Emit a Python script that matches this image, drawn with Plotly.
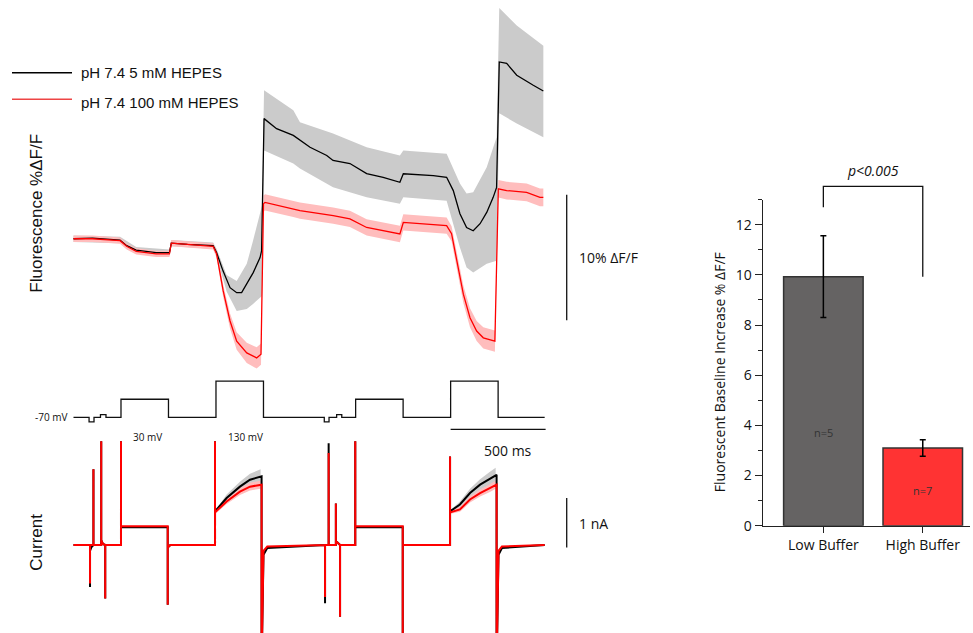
import plotly.graph_objects as go

# ---------------- Fluorescence traces (%ΔF/F vs time, ms) ----------------
black_t = [0, 100, 245, 280, 330, 435, 505, 515, 600, 735, 753, 787, 824, 859, 885, 912, 946, 982, 990,
           1003, 1069, 1157, 1245, 1333, 1366, 1455, 1543, 1630, 1718, 1736, 1894, 1964, 1999, 2034, 2069,
           2104, 2140, 2175, 2209, 2227, 2241, 2280, 2333, 2420, 2473]
black_f = [0.0, 0.05, -0.1, -0.55, -0.9, -1.1, -1.1, -0.35, -0.45, -0.55, -1.1, -2.56, -3.9, -4.3, -4.3,
           -3.62, -2.7, -1.5, -0.96, 9.58, 8.78, 8.24, 7.3, 6.64, 6.24, 6.0, 5.2, 4.9, 4.5, 5.18, 5.04, 4.9,
           3.84, 2.0, 0.9, 0.64, 1.2, 2.1, 3.3, 4.1, 14.1, 13.98, 13.04, 12.24, 11.78]

black_band_t = [0, 245, 330, 505, 515, 735, 753, 806, 859, 912, 945, 982, 992, 1003, 1157, 1192, 1366,
                1543, 1718, 1736, 1964, 2034, 2069, 2104, 2175, 2227, 2241, 2333, 2473]
black_band_hi = [0.25, 0.15, -0.65, -0.85, -0.1, -0.3, -0.8, -2.9, -3.36, -2.0, -0.16, 2.0, 2.64, 11.84,
                 10.24, 9.3, 8.4, 7.3, 6.64, 7.04, 6.78, 4.4, 3.6, 3.7, 5.7, 8.1, 18.4, 17.0, 15.4]
black_band_lo = [-0.25, -0.35, -1.15, -1.35, -0.6, -0.8, -1.4, -4.2, -5.76, -5.6, -5.2, -4.7, -4.56, 7.04,
                 6.0, 5.6, 4.1, 3.3, 2.8, 3.3, 3.04, -0.7, -2.3, -2.7, -2.0, -1.76, 10.0, 9.2, 8.1]

red_t = [0, 100, 245, 280, 330, 435, 505, 515, 600, 735, 753, 788, 824, 859, 912, 964, 987, 1000, 1008,
         1157, 1192, 1367, 1455, 1543, 1630, 1718, 1736, 1964, 1990, 2017, 2052, 2087, 2122, 2157, 2218,
         2236, 2280, 2385, 2455, 2473]
red_f = [0.0, 0.0, -0.15, -0.6, -1.0, -1.2, -1.2, -0.35, -0.45, -0.6, -1.2, -4.16, -6.56, -8.16, -9.1,
         -9.5, -9.2, 2.78, 2.9, 2.38, 2.24, 1.84, 1.58, 0.9, 0.64, 0.38, 1.3, 1.04, 0.4, -1.76, -4.42, -6.3,
         -7.36, -7.9, -8.16, 3.98, 3.84, 3.7, 3.3, 3.3]
red_sd = [0.25, 0.25, 0.25, 0.25, 0.25, 0.25, 0.25, 0.25, 0.25, 0.25, 0.3, 0.5, 0.6, 0.7, 0.8, 0.85, 0.85,
          0.65, 0.65, 0.65, 0.65, 0.65, 0.65, 0.65, 0.65, 0.65, 0.65, 0.65, 0.6, 0.6, 0.7, 0.75, 0.8, 0.85,
          0.85, 0.7, 0.7, 0.7, 0.7, 0.7]

# ---------------- Voltage protocol (mV) ----------------
volt_t = [0, 82, 108, 142, 171, 250, 500, 750, 1000, 1320, 1345, 1385, 1412, 1485, 1735, 1985, 2235, 2480]
volt_mv = [-70, -95, -70, -55, -70, 30, -70, 130, -70, -95, -70, -55, -70, 30, -70, 130, -70, -70]

# ---------------- Current traces (nA) ----------------
cur_t = [0, 87, 87, 87, 95, 105, 105, 105, 146, 146, 146, 155, 167, 167, 167, 250, 250, 250, 496, 496, 496,
         510, 745, 745, 745, 806, 876, 929, 985, 990, 990, 1000, 1020, 1324, 1324, 1324, 1343, 1343, 1343,
         1381, 1381, 1381, 1403, 1403, 1403, 1483, 1483, 1483, 1733, 1733, 1733, 1750, 1982, 1982, 1982,
         2034, 2087, 2140, 2192, 2222, 2227, 2227, 2237, 2255, 2480]
cur_black = [0, 0, -0.85, -0.12, -0.04, 0, 1.53, 0, 0, 2.1, 0.1, 0.02, 0, -1.08, 0, 0, 2.1, 0.36, 0.36,
             -1.21, -0.05, 0, 0, 2.1, 0.68, 0.95, 1.18, 1.32, 1.39, 1.39, -2.5, -0.2, -0.06, 0, -1.18, 0, 0,
             2.06, 0, 0, 0.84, 0.08, 0, -1.45, 0, 0, 2.1, 0.36, 0.36, -2.5, 0, 0, 0, 1.79, 0.68, 0.82, 1.05,
             1.22, 1.35, 1.42, 1.42, -2.5, -0.2, -0.06, 0]
cur_red = [0, 0, -0.78, -0.02, 0, 0, 1.53, 0, 0, 2.1, 0.1, 0.02, 0, -1.08, 0, 0, 2.1, 0.38, 0.38, -1.21,
           -0.05, 0, 0, 2.1, 0.66, 0.88, 1.08, 1.18, 1.22, 1.22, -2.5, -0.12, -0.03, 0, -1.05, 0, 0, 1.86, 0,
           0, 0.84, 0.08, 0, -1.45, 0, 0, 2.1, 0.38, 0.38, -2.5, 0, 0, 0, 1.79, 0.66, 0.72, 0.92, 1.05, 1.15,
           1.22, 1.22, -2.5, -0.12, -0.03, 0]

ramp1_t = [748, 806, 876, 929, 985]
ramp1_black = [0.68, 0.95, 1.18, 1.32, 1.39]
ramp1_red = [0.66, 0.88, 1.08, 1.18, 1.22]
ramp2_t = [1985, 2034, 2087, 2140, 2192, 2222]
ramp2_black = [0.68, 0.82, 1.05, 1.22, 1.35, 1.42]
ramp2_red = [0.66, 0.72, 0.92, 1.05, 1.15, 1.22]
ramp_sd_black1 = [0.03, 0.07, 0.1, 0.12, 0.14]
ramp_sd_black2 = [0.03, 0.06, 0.09, 0.11, 0.13, 0.14]
ramp_sd_red1 = [0.03, 0.05, 0.07, 0.08, 0.08]
ramp_sd_red2 = [0.03, 0.05, 0.06, 0.07, 0.08, 0.08]

# ---------------- Bar chart ----------------
bar_cats = ["Low Buffer", "High Buffer"]
bar_vals = [9.93, 3.10]
bar_err = [1.63, 0.33]
bar_n = ["n=5", "n=7"]
bar_n_y = [3.7, 1.4]
bar_colors = ["#656363", "#ff3333"]
p_text = "p<0.005"

# Scale bar sizes
scale_ms = 500
scale_pct = 10
scale_na = 1

BLACK = "#000000"
RED = "#ff0000"
GREY_BAND = "#cbcbcb"
PINK_BAND = "#ffbdbd"

fig = go.Figure()


def band(t, hi, lo, color, xa, ya):
    fig.add_trace(go.Scatter(x=list(t) + list(t)[::-1], y=list(hi) + list(lo)[::-1], fill="toself",
                             fillcolor=color, line=dict(width=0), mode="lines", hoverinfo="skip",
                             showlegend=False, xaxis=xa, yaxis=ya))


# Fluorescence
band(black_band_t, black_band_hi, black_band_lo, GREY_BAND, "x", "y")
band(red_t, [f + s for f, s in zip(red_f, red_sd)], [f - s for f, s in zip(red_f, red_sd)], PINK_BAND, "x", "y")
fig.add_trace(go.Scatter(x=black_t, y=black_f, mode="lines", line=dict(color=BLACK, width=1.3),
                         name="pH 7.4 5 mM HEPES", showlegend=False, xaxis="x", yaxis="y"))
fig.add_trace(go.Scatter(x=red_t, y=red_f, mode="lines", line=dict(color=RED, width=1.3),
                         name="pH 7.4 100 mM HEPES", showlegend=False, xaxis="x", yaxis="y"))

# Voltage protocol
fig.add_trace(go.Scatter(x=volt_t, y=volt_mv, mode="lines", line=dict(color="#111111", width=1.3, shape="hv"),
                         showlegend=False, xaxis="x2", yaxis="y2"))

# Current
band(ramp1_t, [a + s for a, s in zip(ramp1_black, ramp_sd_black1)],
     [a - s for a, s in zip(ramp1_black, ramp_sd_black1)], GREY_BAND, "x3", "y3")
band(ramp2_t, [a + s for a, s in zip(ramp2_black, ramp_sd_black2)],
     [a - s for a, s in zip(ramp2_black, ramp_sd_black2)], GREY_BAND, "x3", "y3")
band(ramp1_t, [a + s for a, s in zip(ramp1_red, ramp_sd_red1)],
     [a - s for a, s in zip(ramp1_red, ramp_sd_red1)], PINK_BAND, "x3", "y3")
band(ramp2_t, [a + s for a, s in zip(ramp2_red, ramp_sd_red2)],
     [a - s for a, s in zip(ramp2_red, ramp_sd_red2)], PINK_BAND, "x3", "y3")
fig.add_trace(go.Scatter(x=cur_t, y=cur_black, mode="lines", line=dict(color=BLACK, width=2),
                         showlegend=False, xaxis="x3", yaxis="y3"))
fig.add_trace(go.Scatter(x=cur_t, y=cur_red, mode="lines", line=dict(color=RED, width=2),
                         showlegend=False, xaxis="x3", yaxis="y3"))

# Bars
fig.add_trace(go.Bar(x=bar_cats, y=bar_vals, width=0.8,
                     marker=dict(color=bar_colors, line=dict(color="#333333", width=1.5)),
                     error_y=dict(type="data", array=bar_err, color="#000000", thickness=1.5, width=3),
                     showlegend=False, xaxis="x4", yaxis="y4"))

T_RANGE = [-386.8, 2788.4]
hidden = dict(visible=False, showgrid=False, zeroline=False, fixedrange=True)
fig.update_layout(
    width=973, height=644,
    margin=dict(l=0, r=0, t=0, b=0),
    paper_bgcolor="white", plot_bgcolor="white",
    showlegend=False,
    xaxis=dict(domain=[0, 0.62], range=T_RANGE, anchor="y", **hidden),
    yaxis=dict(domain=[0.406, 1.0], range=[-11.04, 19.04], anchor="x", **hidden),
    xaxis2=dict(domain=[0, 0.62], range=T_RANGE, anchor="y2", **hidden),
    yaxis2=dict(domain=[0.3286, 0.4155], range=[-120, 185.6], anchor="x2", **hidden),
    xaxis3=dict(domain=[0, 0.62], range=T_RANGE, anchor="y3", **hidden),
    yaxis3=dict(domain=[0.0, 0.3207], range=[-1.82, 2.298], anchor="x3", **hidden),
    xaxis4=dict(domain=[0.7839, 0.997], range=[-0.61, 1.476], anchor="y4", type="category",
                showline=True, linecolor="#222222", linewidth=1.2, ticks="outside", ticklen=6,
                tickcolor="#222222", tickwidth=1.2, showgrid=False, zeroline=False,
                tickfont=dict(family="Open Sans", size=14, color="#111111")),
    yaxis4=dict(domain=[0.1722, 0.6856], range=[0, 13], anchor="x4", showline=True, linecolor="#222222",
                linewidth=1.2, ticks="outside", ticklen=7, tickcolor="#222222", tickwidth=1.2,
                dtick=2, tick0=0, showgrid=False, zeroline=False,
                minor=dict(dtick=1, ticks="outside", ticklen=4, tickcolor="#222222", tickwidth=1.2, showgrid=False),
                tickfont=dict(family="Open Sans", size=14, color="#111111")),
    font=dict(family="Open Sans", color="#111111"),
)

shapes = []
# Fluorescence scale bar
shapes.append(dict(type="line", xref="x", yref="y", x0=2596, x1=2596, y0=-6.5, y1=-6.5 + scale_pct,
                   line=dict(color="#111111", width=1.3)))
# Current scale bar
shapes.append(dict(type="line", xref="x3", yref="y3", x0=2596, x1=2596, y0=-0.05, y1=-0.05 + scale_na,
                   line=dict(color="#111111", width=1.3)))
# Time scale bar
shapes.append(dict(type="line", xref="x2", yref="paper", x0=1985, x1=1985 + scale_ms, y0=1 - 428 / 633,
                   y1=1 - 428 / 633, line=dict(color="#111111", width=1.3)))
# Legend lines
shapes.append(dict(type="line", xref="paper", yref="paper", x0=12 / 973, x1=72 / 973, y0=1 - 72.5 / 633,
                   y1=1 - 72.5 / 633, line=dict(color=BLACK, width=1.5)))
shapes.append(dict(type="line", xref="paper", yref="paper", x0=12 / 973, x1=72 / 973, y0=1 - 99 / 633,
                   y1=1 - 99 / 633, line=dict(color="#ee4444", width=1.5)))
# Significance bracket
yb_left = 1 - 206.7 / 633
yb_top = 1 - 185.7 / 633
yb_right = 1 - 276 / 633
shapes.append(dict(type="path", xref="x4", yref="paper",
                   path=f"M 0 {yb_left} L 0 {yb_top} L 1 {yb_top} L 1 {yb_right}",
                   line=dict(color="#111111", width=1.3)))
fig.update_layout(shapes=shapes)

ann = []
ann.append(dict(text="pH 7.4 5 mM HEPES", xref="paper", yref="paper", x=79 / 973, y=1 - 72.5 / 633,
                xanchor="left", yanchor="middle", showarrow=False,
                font=dict(family="Liberation Sans", size=15, color="#111111")))
ann.append(dict(text="pH 7.4 100 mM HEPES", xref="paper", yref="paper", x=79 / 973, y=1 - 102 / 633,
                xanchor="left", yanchor="middle", showarrow=False,
                font=dict(family="Liberation Sans", size=15, color="#111111")))
ann.append(dict(text="Fluorescence %ΔF/F", xref="paper", yref="paper", x=37 / 973, y=1 - 213 / 633,
                textangle=-90, showarrow=False, xanchor="center", yanchor="middle",
                font=dict(family="Liberation Sans", size=17, color="#111111")))
ann.append(dict(text="Current", xref="paper", yref="paper", x=37 / 973, y=1 - 541 / 633,
                textangle=-90, showarrow=False, xanchor="center", yanchor="middle",
                font=dict(family="Liberation Sans", size=17, color="#111111")))
ann.append(dict(text="10% ΔF/F", xref="x", yref="y", x=2650, y=-1.5, xanchor="left", yanchor="middle",
                showarrow=False, font=dict(family="Open Sans", size=14, color="#111111")))
ann.append(dict(text="1 nA", xref="x3", yref="y3", x=2650, y=0.43, xanchor="left", yanchor="middle",
                showarrow=False, font=dict(family="Open Sans", size=14, color="#111111")))
ann.append(dict(text="500 ms", xref="x2", yref="paper", x=2285, y=1 - 449 / 633, xanchor="center",
                yanchor="middle", showarrow=False, font=dict(family="Open Sans", size=14, color="#111111")))
ann.append(dict(text="-70 mV", xref="x2", yref="y2", x=-20, y=-70, xanchor="right", yanchor="middle",
                showarrow=False, font=dict(family="Open Sans", size=10, color="#111111")))
ann.append(dict(text="30 mV", xref="x2", yref="paper", x=390, y=1 - 436 / 633, xanchor="center",
                yanchor="middle", showarrow=False, font=dict(family="Open Sans", size=10, color="#111111")))
ann.append(dict(text="130 mV", xref="x2", yref="paper", x=905, y=1 - 436 / 633, xanchor="center",
                yanchor="middle", showarrow=False, font=dict(family="Open Sans", size=10, color="#111111")))
ann.append(dict(text="Fluorescent Baseline Increase % ΔF/F", xref="paper", yref="paper", x=719 / 973,
                y=1 - 371 / 633, textangle=-90, showarrow=False, xanchor="center", yanchor="middle",
                font=dict(family="Open Sans", size=14, color="#111111")))
for c, ny, nt in zip(bar_cats, bar_n_y, bar_n):
    ann.append(dict(text=nt, xref="x4", yref="y4", x=c, y=ny, showarrow=False,
                    font=dict(family="Open Sans", size=11, color="#333333")))
ann.append(dict(text=f"<i>{p_text}</i>", xref="x4", yref="paper", x=0.5, y=1 - 170 / 633, showarrow=False,
                xanchor="center", yanchor="middle", font=dict(family="Open Sans", size=14, color="#111111")))
fig.update_layout(annotations=ann)

post = ("document.documentElement.style.margin='0px';document.documentElement.style.padding='0px';"
        "document.documentElement.style.overflow='hidden';"
        "document.body.style.margin='0px';document.body.style.padding='0px';"
        "document.body.style.overflow='hidden';"
        "var d=document.getElementById('{plot_id}');d.style.position='absolute';d.style.top='0px';"
        "d.style.left='0px';")
fig.write_html("out.html", config={"displayModeBar": False}, post_script=post)
